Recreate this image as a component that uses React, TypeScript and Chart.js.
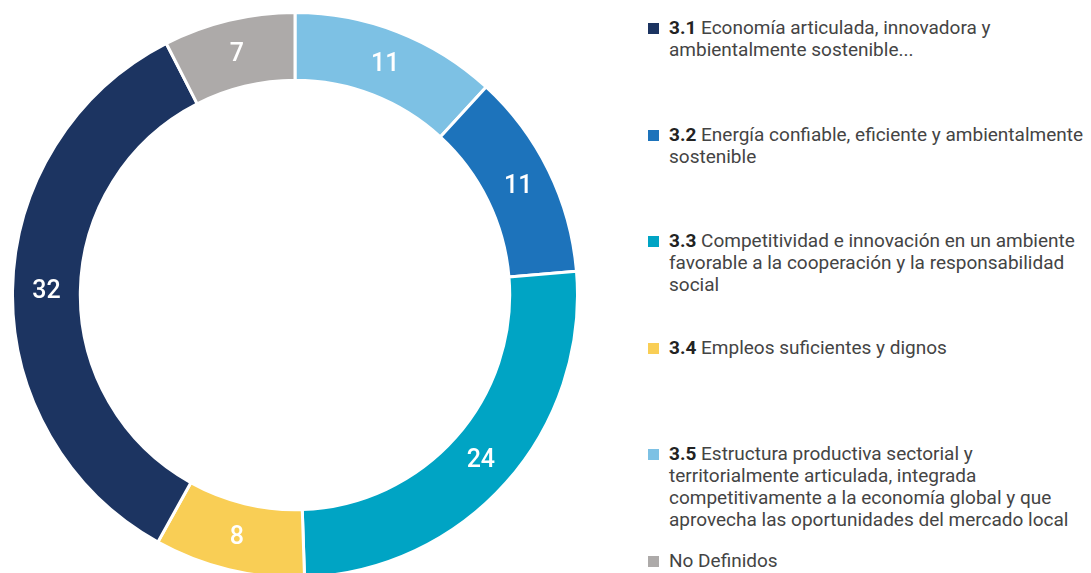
import React, { useEffect, useRef } from "react";
import { Chart, registerables } from "chart.js";

Chart.register(...registerables);

// Slices in drawing order (clockwise from 12 o'clock)
const sliceCodes = ["3.5", "3.2", "3.3", "3.4", "3.1", "ND"];
const sliceValues = [11, 11, 24, 8, 32, 7];
const sliceColors = ["#7dc1e4", "#1d73bb", "#00a4c4", "#f9ce55", "#1c3461", "#adaaa9"];

// Legend (in legend order)
const legendCodes = ["3.1", "3.2", "3.3", "3.4", "3.5", ""];
const legendColors = ["#1c3461", "#1d73bb", "#00a4c4", "#f9ce55", "#7dc1e4", "#adaaa9"];
const legendLines: string[][] = [
  ["Economía articulada, innovadora y", "ambientalmente sostenible..."],
  ["Energía confiable, eficiente y ambientalmente", "sostenible"],
  [
    "Competitividad e innovación en un ambiente",
    "favorable a la cooperación y la responsabilidad",
    "social",
  ],
  ["Empleos suficientes y dignos"],
  [
    "Estructura productiva sectorial y",
    "territorialmente articulada, integrada",
    "competitivamente a la economía global y que",
    "aprovecha las oportunidades del mercado local",
  ],
  ["No Definidos"],
];

const FONT = "Roboto, 'Noto Sans', sans-serif";

const valueLabels = {
  id: "valueLabels",
  afterDatasetsDraw(chart: any) {
    const ctx = chart.ctx;
    const meta = chart.getDatasetMeta(0);
    ctx.save();
    ctx.fillStyle = "#ffffff";
    ctx.font = `500 25px ${FONT}`;
    ctx.textAlign = "center";
    ctx.textBaseline = "middle";
    meta.data.forEach((arc: any, i: number) => {
      const p = arc.getCenterPoint();
      ctx.fillText(String(chart.data.datasets[0].data[i]), p.x, p.y + 1);
    });
    ctx.restore();
  },
};

export default function App() {
  const ref = useRef<HTMLCanvasElement | null>(null);

  useEffect(() => {
    if (!ref.current) return;
    const chart = new Chart(ref.current, {
      type: "doughnut",
      data: {
        labels: sliceCodes,
        datasets: [
          {
            data: sliceValues,
            backgroundColor: sliceColors,
            borderColor: "#ffffff",
            borderWidth: 3,
          },
        ],
      },
      options: {
        animation: false,
        responsive: false,
        maintainAspectRatio: false,
        cutout: "76%",
        layout: { padding: 0 },
        plugins: {
          legend: { display: false },
          tooltip: { enabled: false },
        },
      },
      plugins: [valueLabels],
    });
    return () => chart.destroy();
  }, []);

  return (
    <div
      style={{
        position: "fixed",
        left: 0,
        top: 0,
        width: 1091,
        height: 573,
        overflow: "hidden",
        background: "#ffffff",
        fontFamily: FONT,
      }}
    >
      <canvas
        ref={ref}
        width={568}
        height={568}
        style={{ position: "absolute", left: 11, top: 11, width: 568, height: 568 }}
      />
      <div style={{ position: "absolute", left: 648, top: 17 }}>
        {legendLines.map((lines, i) => (
          <div
            key={i}
            style={{ position: "relative", height: 106.6, color: "#444444", fontSize: 19, lineHeight: "22px" }}
          >
            <span
              style={{
                position: "absolute",
                left: 0,
                top: 6,
                width: 11,
                height: 11,
                background: legendColors[i],
              }}
            />
            <div style={{ marginLeft: 21, whiteSpace: "nowrap", fontWeight: 400 }}>
              {lines.map((ln, j) => (
                <div key={j}>
                  {j === 0 && legendCodes[i] ? (
                    <span style={{ fontWeight: 700, color: "#222" }}>{legendCodes[i]} </span>
                  ) : null}
                  {ln}
                </div>
              ))}
            </div>
          </div>
        ))}
      </div>
    </div>
  );
}
